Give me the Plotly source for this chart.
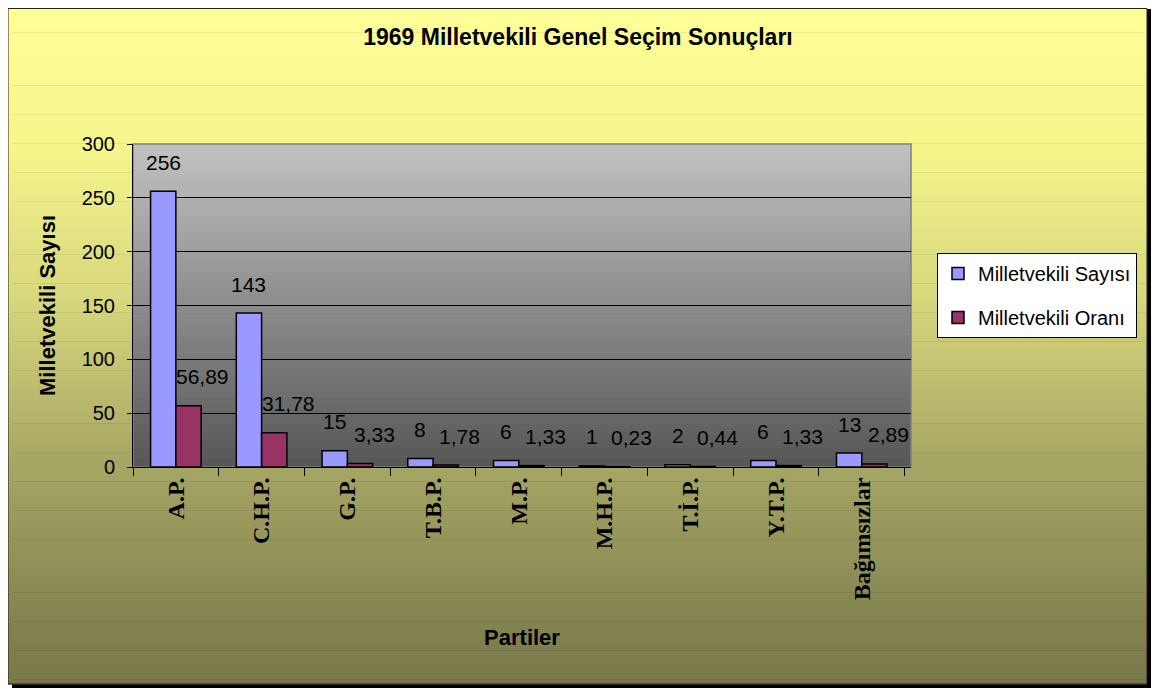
import plotly.graph_objects as go

partiler = ["A.P.", "C.H.P.", "G.P.", "T.B.P.", "M.P.", "M.H.P.", "T.İ.P.", "Y.T.P.", "Bağımsızlar"]
milletvekili_sayisi = [256, 143, 15, 8, 6, 1, 2, 6, 13]
milletvekili_orani = [56.89, 31.78, 3.33, 1.78, 1.33, 0.23, 0.44, 1.33, 2.89]

# page body has an 8px margin, so the figure is drawn 8px smaller and offset
OFF = 8
W, H = 1159 - OFF, 691 - OFF
PX0, PX1, PY0, PY1 = 133, 911, 144, 467  # plot area on screen
ML, MT = PX0 - OFF, PY0 - OFF
MR, MB = W - (PX1 - OFF), H - (PY1 - OFF)
PW, PH = PX1 - PX0, PY1 - PY0


def px(x):
    return (x - PX0) / PW


def py(y):
    return (PY1 - y) / PH


def mix(stops, t):
    for (t0, c0), (t1, c1) in zip(stops, stops[1:]):
        if t <= t1:
            f = (t - t0) / (t1 - t0) if t1 > t0 else 0
            return "rgb(%d,%d,%d)" % tuple(round(a + (b - a) * f) for a, b in zip(c0, c1))
    return "rgb(%d,%d,%d)" % stops[-1][1]


def bands(x0, y0, x1, y1, stops, n):
    out = []
    step = (y1 - y0) / n
    for i in range(n):
        ya = y0 + i * step
        out.append(dict(type="rect", xref="paper", yref="paper", layer="below",
                        x0=px(x0), x1=px(x1), y0=py(ya), y1=py(ya + step + 0.6),
                        fillcolor=mix(stops, (i + 0.5) / n), line=dict(width=0)))
    return out


outer_stops = [(0, (255, 255, 153)), (0.21, (245, 245, 140)), (0.43, (215, 215, 125)),
               (0.68, (165, 165, 100)), (0.93, (128, 128, 80)), (1, (120, 120, 74))]
plot_stops = [(0, (194, 194, 194)), (0.5, (140, 140, 140)), (1, (86, 86, 86))]

shapes = [dict(type="rect", xref="paper", yref="paper", layer="below",
               x0=px(12), x1=px(1151), y0=py(9), y1=py(688), fillcolor="black", line=dict(width=0))]
shapes += bands(8, 8, 1147, 684, outer_stops, 140)
shapes += bands(PX0, PY0, PX1, PY1, plot_stops, 90)
shapes.append(dict(type="rect", xref="paper", yref="paper", layer="below",
                   x0=px(8), x1=px(1147), y0=py(8.5), y1=py(684), line=dict(color="#222211", width=1)))
shapes.append(dict(type="rect", xref="paper", yref="paper", layer="below",
                   x0=0, x1=1, y0=0, y1=1, line=dict(color="#808080", width=1.5)))

fig = go.Figure()
fig.add_trace(go.Bar(x=partiler, y=milletvekili_sayisi, name="Milletvekili Sayısı", legendgroup="a",
                     marker=dict(color="#9999FF", line=dict(color="black", width=1.5))))
fig.add_trace(go.Bar(x=partiler, y=milletvekili_orani, name="Milletvekili Oranı", legendgroup="b",
                     marker=dict(color="#993366", line=dict(color="black", width=1.5))))

label_font = dict(family="Liberation Sans, Arial", size=21, color="black")
annotations = []
for p, v in zip(partiler, milletvekili_sayisi):
    annotations.append(dict(x=p, y=v, text=str(v), showarrow=False, xshift=-12.75, yshift=29,
                            yanchor="middle", font=label_font))
for p, v in zip(partiler, milletvekili_orani):
    annotations.append(dict(x=p, y=v, text=f"{v:.2f}".replace(".", ","), showarrow=False,
                            xshift=12.75 + 14, yshift=29, yanchor="middle", font=label_font))

fig.update_layout(
    width=W, height=H,
    margin=dict(l=ML, r=MR, t=MT, b=MB, autoexpand=False),
    paper_bgcolor="white", plot_bgcolor="rgba(0,0,0,0)",
    barmode="group", bargap=0.41, bargroupgap=0,
    shapes=shapes, annotations=annotations,
    title=dict(text="<b>1969 Milletvekili Genel Seçim Sonuçları</b>", x=(578 - OFF) / W, xanchor="center",
               y=1 - (37 - OFF) / H, yanchor="middle",
               font=dict(family="Liberation Sans, Arial", size=23, color="black")),
    showlegend=True,
    legend=dict(x=px(937), y=py(253), xanchor="left", yanchor="top", bgcolor="white",
                bordercolor="black", borderwidth=1, traceorder="grouped", tracegroupgap=15,
                font=dict(family="Liberation Sans, Arial", size=20, color="black")),
    xaxis=dict(type="category", showline=True, linecolor="black", linewidth=1,
               ticks="outside", tickson="boundaries", ticklen=8, tickcolor="black",
               tickangle=-90, showgrid=False,
               tickfont=dict(family="Liberation Serif, Times New Roman", size=24, color="black", weight="bold"),
               title=dict(text="<b>Partiler</b>", standoff=30,
                          font=dict(family="Liberation Sans, Arial", size=22, color="black")),
               automargin=False),
    yaxis=dict(range=[0, 300], dtick=50, showline=True, linecolor="black", linewidth=1,
               ticks="outside", ticklen=5, tickcolor="black", ticklabelstandoff=8,
               showgrid=True, gridcolor="black", gridwidth=1, zeroline=False,
               tickfont=dict(family="Liberation Sans, Arial", size=20, color="black"),
               title=dict(text="<b>Milletvekili Sayısı</b>", standoff=19,
                          font=dict(family="Liberation Sans, Arial", size=22, color="black")),
               automargin=False),
)

fig.write_html("out.html")
